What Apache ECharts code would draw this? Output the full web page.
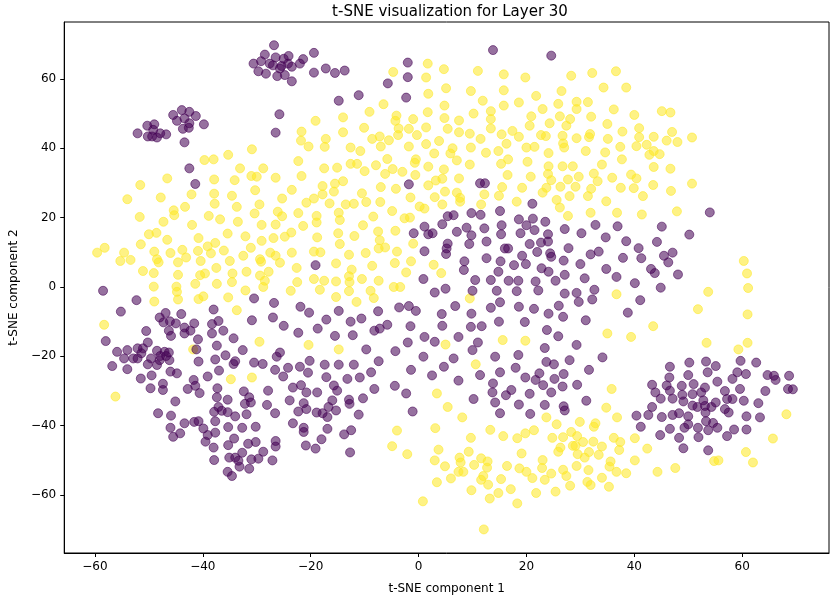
<!DOCTYPE html>
<html>
<head>
<meta charset="utf-8">
<title>t-SNE Layer 30</title>
<script src="https://cdn.jsdelivr.net/npm/echarts/dist/echarts.min.js"></script>
<style>
    html, body { margin: 0; padding: 0; background: #fff; }
    #tsneChart { width: 830px; height: 600px; }
</style>
</head>
<body>
<div id="tsneChart"></div>
<script>
// 标签 0（紫色）的点
var class0Points = [
    [-26.8,69.7],[-28.5,67.0],[-26.5,66.2],[-25.0,65.8],[-24.1,66.6],[-21.4,65.7],[-19.4,67.5],[-30.6,64.4],[-29.2,65.1],[-27.6,64.4],[-27.0,63.9],[-25.4,63.7],[-23.5,63.5],[-22.0,64.4],[-29.7,62.2],[-28.3,61.5],[-26.2,60.8],[-24.8,61.1],[-23.5,59.3],[-19.4,61.8],[-24.2,64.4],[-25.7,63.0],
    [-43.9,51.0],[-42.5,50.5],[-41.3,49.3],[-45.5,49.6],[-44.8,47.9],[-43.4,48.6],[-42.5,47.2],[-39.8,46.9],[-43.7,45.6],[-42.6,45.9],[-50.3,46.5],[-49.0,46.9],[-52.1,44.3],[-50.2,43.4],[-49.2,45.3],[-47.9,44.3],[-46.8,44.0],[-49.4,43.4],[-48.5,43.1],[-43.4,41.7],
    [-25.8,49.8],[-26.5,44.5],
    [-17.2,63.0],[-15.5,61.7],[-13.7,62.4],[-14.8,53.7],[-11.1,55.3],[-5.7,58.7],[-2.0,64.7],[-2.0,60.5],[-2.3,54.6],[13.8,68.3],[24.6,66.7],
    [-42.5,34.2],[-41.4,29.7],[-19.1,6.3],
    [-1.8,29.6],[11.4,29.9],[12.3,29.9],[21.1,24.0],[15.1,21.9],[5.4,20.4],[6.5,20.7],[9.8,21.3],[11.5,20.8],[18.6,19.5],[21.2,19.7],[23.5,18.8],[1.1,17.4],[4.4,18.1],[8.9,17.1],[12.2,16.9],[15.4,17.8],[20.0,17.8],[-0.9,15.5],[1.8,15.2],[2.6,15.5],[7.1,15.9],[9.8,14.9],[15.3,15.2],[18.9,15.5],[21.5,16.4],[24.0,15.2],[27.1,16.7],[5.4,12.5],[5.2,11.1],[9.4,12.4],[12.6,13.1],[22.7,12.8],[24.0,13.1],[20.6,12.4],[16.0,11.1],[16.6,11.1],[27.8,11.2],[1.1,10.3],[5.1,9.5],[22.0,10.1],[24.4,9.7],[19.2,9.0],[24.6,8.7],[12.6,8.3],[8.5,7.4],[15.2,7.4],[17.7,6.3],[19.9,6.6],[22.8,5.4],[26.9,7.6],[8.4,4.9],[14.8,4.4],[24.1,4.4],[27.1,3.5],[0.9,2.3],[10.5,2.0],[13.4,2.0],[16.7,1.8],[18.5,1.8],[21.7,1.6],[25.4,1.8],
    [54.0,21.5],[32.8,17.9],[36.9,17.5],[45.1,17.4],[30.2,15.5],[34.7,14.3],[38.5,13.2],[44.2,13.0],[50.2,15.1],[31.9,9.4],[33.4,10.2],[40.8,11.2],[37.9,8.4],[41.3,8.3],[45.5,9.0],[47.1,9.9],[46.3,7.1],[30.0,6.6],[34.8,5.2],[43.1,5.2],[43.8,4.0],[48.1,3.6],[30.8,2.5],[36.7,2.9],[40.1,1.1],
    [-58.5,-1.1],[-52.3,-3.8],[-55.2,-7.1],[-46.9,-7.5],[-48.0,-8.8],[-47.3,-10.2],[-46.1,-9.9],[-45.0,-10.5],[-44.0,-7.8],[-41.6,-10.5],[-43.4,-11.7],[-43.4,-13.4],[-42.3,-12.6],[-46.3,-12.6],[-45.9,-14.1],[-38.0,-6.5],[-37.1,-9.8],[-38.3,-10.7],[-38.3,-13.4],[-36.2,-12.6],[-34.3,-14.8],[-30.5,-3.3],[-30.9,-9.6],[-26.8,-4.6],[-27.0,-8.8],[-25.0,-11.2],[-21.9,-5.7],[-20.3,-7.4],[-22.3,-13.2],[-50.5,-12.7],[-58.0,-15.6],[-50.2,-16.0],[-40.9,-15.1],[-41.2,-18.0],[-37.4,-16.9],[-32.6,-18.2],[-55.9,-18.7],[-54.0,-18.2],[-52.1,-17.7],[-51.1,-17.7],[-54.6,-20.6],[-52.9,-20.6],[-52.1,-20.6],[-51.4,-19.1],[-49.6,-20.6],[-48.5,-18.4],[-47.9,-19.9],[-47.1,-18.7],[-46.3,-18.9],[-46.8,-19.9],[-46.2,-21.1],[-50.2,-22.3],[-48.5,-22.5],[-48.0,-21.1],[-56.8,-22.8],[-54.0,-23.7],[-40.8,-21.5],[-37.7,-20.9],[-35.8,-19.7],[-34.0,-21.4],[-34.3,-22.2],[-30.5,-21.8],[-28.9,-22.2],[-26.3,-20.1],[-25.7,-18.9],[-20.2,-21.3],[-22.0,-23.0],[-24.2,-23.3],[-26.6,-23.9],[-37.0,-24.1],[-46.0,-24.4],[-44.8,-24.9],[-51.5,-26.4],[-49.5,-25.5],[-41.7,-26.8],[-39.1,-25.8],[-25.1,-25.8],[-20.5,-24.7],[-49.7,-29.2],[-47.4,-27.9],[-47.4,-29.7],[-42.8,-29.4],[-41.4,-28.5],[-40.6,-30.6],[-37.3,-29.2],[-37.4,-31.8],[-35.4,-32.5],[-32.4,-30.1],[-31.4,-31.8],[-32.2,-33.7],[-31.1,-33.3],[-27.9,-29.9],[-23.3,-29.0],[-21.8,-28.3],[-20.8,-30.4],[-18.8,-30.4],[-23.9,-32.7],[-21.3,-33.5],[-28.1,-34.0],[-45.1,-33.0],[-37.1,-34.6],[-36.5,-35.7],[-35.4,-36.1],[-37.9,-36.0],[-48.3,-36.4],[-45.9,-37.1],[-34.0,-37.3],[-31.9,-36.7],[-26.6,-36.4],[-22.3,-35.9],[-20.8,-35.2],[-18.9,-36.2],[-18.7,-12.0],
    [3.0,-1.6],[5.0,-0.5],[10.0,-1.1],[14.5,-1.1],[18.2,-1.2],[22.2,-1.0],[27.1,-1.9],[-14.8,-6.9],[-17.1,-9.4],[-12.6,-10.0],[-10.6,-9.1],[-7.5,-7.0],[-3.6,-5.9],[-1.8,-5.5],[-0.5,-6.9],[6.8,-5.5],[4.3,-7.8],[4.4,-11.2],[9.8,-7.7],[13.4,-6.0],[15.1,-4.4],[18.6,-5.7],[21.4,-6.3],[24.1,-7.7],[26.0,-5.4],[26.8,-8.6],[14.9,-10.0],[19.7,-10.1],[23.8,-12.4],[25.9,-14.2],[9.7,-11.5],[11.7,-11.3],[-1.5,-11.3],[-5.8,-10.9],[-7.2,-12.0],[-8.2,-12.6],[-15.5,-14.1],[-12.2,-13.9],[1.1,-14.4],[3.0,-15.8],[7.4,-14.4],[11.0,-16.0],[10.0,-18.2],[-2.0,-16.0],[-4.3,-18.5],[-9.7,-18.0],[23.4,-17.6],[18.5,-19.6],[14.2,-20.1],[0.9,-20.1],[6.5,-20.6],[-7.4,-21.4],[-17.4,-22.4],[-14.8,-22.4],[-12.0,-22.4],[4.7,-23.0],[-1.4,-23.9],[-8.8,-24.6],[23.7,-21.6],[25.1,-22.3],[28.0,-21.1],[15.1,-24.6],[18.0,-23.3],[-17.1,-26.0],[-13.2,-26.5],[-10.9,-26.1],[2.5,-25.5],[7.4,-27.0],[11.4,-25.4],[13.8,-27.8],[19.8,-26.1],[21.7,-26.8],[22.4,-24.9],[25.2,-26.5],[26.9,-25.1],[23.1,-28.3],[26.7,-28.7],[-15.7,-28.4],[-15.1,-29.9],[-8.2,-29.4],[-4.4,-28.5],[-2.3,-30.7],[13.7,-30.4],[16.2,-31.2],[17.2,-29.7],[20.6,-30.8],[24.6,-30.4],[-16.0,-32.7],[-12.9,-32.5],[-12.8,-33.7],[-10.3,-32.1],[-16.7,-34.6],[10.2,-32.3],[14.2,-33.3],[18.6,-33.9],[23.4,-34.0],[26.9,-34.4],[-17.8,-36.4],[-15.3,-35.6],[-16.9,-37.5],[-11.1,-36.8],[-1.1,-35.9],[15.1,-36.4],[20.7,-36.6],[27.1,-35.6],
    [29.3,-1.7],[32.6,-0.8],[44.9,-0.2],[29.7,-4.3],[32.2,-3.6],[41.1,-3.8],[38.8,-7.4],[31.0,-9.6],[29.3,-16.7],[34.1,-20.3],[31.6,-23.9],[29.4,-28.2],[31.1,-32.8],
    [46.6,-23.0],[50.2,-21.8],[53.3,-21.5],[55.1,-22.8],[59.7,-21.3],[62.6,-21.8],[50.0,-25.4],[53.6,-24.6],[46.5,-26.1],[59.1,-24.6],[60.7,-25.1],[58.2,-26.5],[64.7,-25.4],[65.9,-25.6],[66.2,-26.8],[68.7,-25.6],[43.3,-28.2],[46.0,-28.4],[48.8,-28.5],[51.0,-28.0],[53.1,-29.0],[55.4,-27.3],[59.6,-29.4],[64.3,-30.0],[68.5,-29.4],[69.4,-29.5],[43.9,-30.4],[46.6,-29.9],[44.9,-32.2],[47.1,-32.2],[48.9,-31.1],[49.1,-33.0],[50.8,-30.9],[52.4,-30.4],[52.8,-32.7],[55.1,-33.3],[56.8,-30.0],[57.2,-32.3],[58.2,-32.3],[60.3,-32.8],[63.0,-33.5],[43.3,-34.6],[50.8,-34.2],[51.7,-34.6],[53.1,-34.3],[54.3,-34.6],[56.8,-35.2],[57.5,-36.2],[40.4,-37.1],[42.6,-36.9],[45.1,-37.5],[47.1,-36.9],[48.3,-36.4],[50.0,-37.3],[53.2,-36.2],[60.8,-37.3],[63.3,-37.6],
    [-43.4,-39.3],[-41.6,-38.9],[-40.8,-38.7],[-37.7,-38.7],[-46.0,-40.6],[-44.2,-42.2],[-45.5,-43.2],[-39.9,-40.8],[-39.1,-42.7],[-37.7,-42.0],[-39.5,-44.6],[-38.0,-46.3],[-35.3,-40.4],[-32.7,-40.6],[-30.2,-40.3],[-34.2,-43.7],[-35.3,-45.6],[-31.6,-45.2],[-30.2,-44.7],[-32.7,-47.8],[-28.8,-47.5],[-26.5,-44.4],[-26.5,-46.0],[-35.1,-49.2],[-34.0,-49.2],[-33.4,-50.1],[-37.9,-49.9],[-31.0,-49.7],[-29.7,-49.5],[-27.1,-50.0],[-33.2,-51.8],[-31.4,-52.4],[-35.4,-53.3],[-34.6,-54.5],[-23.3,-39.3],[-21.3,-40.6],[-21.3,-41.8],[-20.9,-45.7],[-19.1,-46.6],
    [-16.9,-40.9],[-18.0,-43.9],[-13.8,-42.5],[-12.5,-41.3],[-12.7,-47.7],
    [41.2,-40.3],[46.6,-40.9],[44.8,-42.7],[49.3,-40.6],[50.0,-39.6],[48.3,-43.5],[49.1,-46.5],[51.8,-40.6],[51.9,-43.3],[53.7,-41.3],[53.3,-38.7],[54.6,-39.2],[55.4,-40.6],[53.7,-47.1],[57.2,-43.0],[58.5,-41.1],[60.8,-41.1]
];

// 标签 1（黄色）的点
var class1Points = [
    [-19.1,47.9],[-21.7,44.8],[-21.8,42.2],[-20.4,40.5],[-30.9,39.7],[-35.3,38.1],
    [1.7,64.4],[4.7,62.8],[11.0,62.3],[15.8,61.3],[19.8,60.4],[28.3,60.9],[-4.7,62.0],[1.4,60.4],[5.1,57.3],[1.8,55.7],[9.7,56.5],[15.8,56.7],[21.8,55.1],[26.5,56.5],[11.9,53.7],[15.8,52.3],[18.6,53.2],[25.9,52.8],[-6.5,52.7],[4.8,52.3],[-9.1,50.5],[-14.0,48.9],[-4.1,49.4],[-4.3,47.9],[-1.0,48.4],[1.7,50.4],[4.8,48.7],[7.5,48.0],[10.2,50.0],[13.4,50.7],[13.4,48.4],[20.9,49.2],[23.0,51.3],[26.2,49.2],[28.1,48.4],[-17.2,42.7],[-17.4,40.4],[-14.0,44.6],[-10.1,45.9],[-8.6,42.7],[-7.0,40.5],[-7.2,43.4],[-5.5,42.3],[-3.7,45.7],[-3.8,43.8],[-1.8,45.6],[-0.3,43.8],[1.4,46.0],[-1.8,40.5],[1.4,41.2],[3.8,42.1],[5.4,45.6],[6.3,40.0],[7.5,44.6],[9.5,44.2],[9.7,40.2],[11.5,42.7],[13.4,45.7],[15.4,44.0],[16.3,41.3],[17.4,45.0],[18.6,43.3],[20.6,46.5],[22.7,43.8],[23.6,43.5],[24.3,47.2],[27.4,46.5],[26.7,43.6],[26.8,41.4],[27.0,40.2],[20.0,40.2],[21.5,40.4],[14.8,39.2],[12.5,38.7],[2.9,38.5],[5.9,38.5],[-10.8,39.2],[-12.6,40.2],[24.1,38.6],
    [32.2,61.7],[36.6,62.2],[34.3,57.5],[38.5,57.5],[29.3,53.4],[31.4,53.3],[29.3,51.3],[36.2,51.2],[32.0,49.1],[40.0,49.6],[45.1,50.7],[46.7,50.3],[35.0,47.0],[40.9,45.8],[37.8,44.8],[47.0,44.7],[29.3,42.9],[31.6,43.2],[31.8,44.1],[35.1,42.7],[40.9,43.2],[43.6,43.3],[46.0,42.2],[48.0,41.8],[50.7,43.1],[37.4,40.4],[40.4,40.6],[42.3,41.0],[31.0,39.2],[34.6,38.8],[43.6,39.2],[44.7,38.3],[42.8,38.1],
    [-39.7,36.6],[-38.0,36.8],[-22.3,36.3],[-33.1,34.2],[-28.8,34.2],[-46.6,31.3],[-51.6,29.4],[-37.9,31.0],[-34.1,30.8],[-31.0,32.0],[-30.0,31.8],[-26.5,31.5],[-21.7,32.0],[-54.0,25.3],[-47.8,25.8],[-42.1,26.7],[-37.9,26.9],[-34.6,26.3],[-30.3,27.9],[-23.5,28.0],[-25.3,25.5],[-19.4,25.5],[-20.8,24.3],[-37.8,24.0],[-45.4,22.1],[-45.3,20.7],[-43.3,23.1],[-33.7,23.1],[-29.5,23.8],[-26.1,21.7],[-25.3,20.4],[-22.3,21.3],[-51.7,20.2],[-47.3,18.8],[-42.0,17.9],[-38.9,20.5],[-36.8,19.5],[-33.5,18.8],[-30.4,21.2],[-29.1,17.9],[-26.5,18.0],[-21.4,17.6],[-18.9,20.5],[-18.9,18.6],[-50.0,15.2],[-48.6,15.6],[-46.6,13.6],[-40.8,14.1],[-35.4,15.4],[-32.1,14.6],[-29.1,13.3],[-26.9,14.1],[-24.8,14.5],[-23.6,15.7],[-18.8,14.3],[-59.6,9.9],[-58.2,11.3],[-54.6,9.9],[-55.3,7.5],[-53.4,7.8],[-51.5,12.3],[-49.0,10.2],[-48.5,8.0],[-48.2,7.1],[-46.0,9.8],[-44.6,7.1],[-43.8,10.7],[-43.1,8.5],[-40.9,10.4],[-39.1,11.7],[-37.7,12.7],[-38.5,9.7],[-36.1,10.5],[-40.4,7.5],[-35.0,7.5],[-32.5,9.0],[-31.1,11.3],[-29.4,8.0],[-29.2,7.3],[-27.5,9.9],[-26.5,9.0],[-25.7,7.0],[-23.5,9.9],[-19.4,10.2],[-51.1,4.6],[-49.1,4.0],[-44.6,3.5],[-40.5,3.4],[-39.6,3.9],[-37.5,5.5],[-34.5,3.9],[-31.9,4.4],[-29.4,3.3],[-27.8,4.4],[-28.5,1.8],[-22.6,5.5],[-22.5,1.4],[-19.4,2.3],[-41.4,0.9],[-37.4,0.9],[-34.6,1.4],[-49.1,0.1],[-44.9,0.1],
    [-5.8,36.9],[-0.5,36.8],[7.1,36.5],[9.5,35.3],[15.3,35.5],[16.6,36.8],[20.2,36.1],[24.1,34.8],[26.7,34.8],[28.6,34.8],[-17.5,34.2],[-15.1,34.4],[-12.6,35.5],[-11.4,35.5],[-10.0,33.4],[-7.9,35.1],[-6.2,32.6],[-4.8,34.0],[-3.0,33.2],[-0.7,35.8],[1.8,34.7],[4.7,33.9],[-0.6,32.3],[3.2,30.7],[4.4,31.2],[1.8,29.3],[7.5,31.3],[16.5,32.3],[20.8,31.8],[24.0,32.6],[24.6,30.8],[15.5,28.8],[19.2,28.6],[23.7,28.6],[26.3,28.9],[27.7,31.0],[-17.8,29.1],[-15.5,29.8],[-14.0,30.5],[-17.8,26.7],[-15.7,27.5],[-10.5,27.0],[-7.0,28.8],[-4.2,28.3],[-1.5,25.8],[3.0,25.9],[4.9,27.5],[7.1,27.2],[7.7,25.7],[7.7,24.6],[12.2,26.7],[14.9,26.3],[11.6,23.8],[18.2,24.6],[23.0,27.2],[25.6,25.1],[26.2,22.9],[28.0,26.2],[27.7,20.5],[-16.5,24.1],[-13.5,23.8],[-12.0,24.0],[-9.7,24.5],[-7.1,24.5],[-4.9,21.9],[0.2,23.2],[1.1,22.6],[4.4,23.8],[-14.8,21.4],[-14.6,19.3],[-8.4,20.3],[-2.6,19.8],[-1.6,20.0],[-10.3,17.8],[-14.9,15.5],[-11.9,14.7],[-7.5,16.0],[-4.3,16.2],[-7.2,13.5],[-14.6,12.4],[-7.4,11.1],[-6.2,11.4],[-4.0,10.2],[-1.0,12.5],[-18.2,10.0],[-12.9,9.3],[-9.8,9.8],[-15.3,6.8],[-8.6,6.1],[-4.4,6.9],[-1.4,7.4],[2.8,6.4],[-12.4,5.0],[-12.9,3.1],[-17.5,1.8],[-15.3,1.6],[-12.8,1.4],[-10.5,2.3],[-7.4,1.8],[-2.3,4.2],[4.2,4.0],
    [37.7,36.8],[43.6,34.6],[46.7,34.1],[34.0,35.3],[32.5,32.7],[29.7,31.8],[33.2,30.5],[35.9,31.5],[39.4,32.4],[40.4,31.3],[29.1,28.9],[32.0,28.3],[37.5,28.6],[39.9,28.5],[43.5,29.4],[50.7,29.8],[46.8,27.7],[31.4,26.2],[41.6,26.2],[34.8,24.7],[31.9,21.4],[36.8,21.4],[41.4,20.9],[47.9,21.8],[60.3,7.5],[60.9,3.9],
    [-32.1,-1.0],[-23.7,-1.1],[-44.8,-1.4],[-28.8,0.0],[-49.0,-4.2],[-44.6,-3.6],[-40.8,-3.5],[-39.9,-2.7],[-35.3,-3.0],[-33.7,-6.7],[-58.3,-10.9],[-41.8,-18.0],[-29.5,-15.8],[-20.4,-16.7],[-34.8,-26.6],[-30.9,-26.1],[-56.2,-31.6],
    [-15.3,-2.9],[-12.9,-1.2],[-8.9,-1.1],[-8.3,-3.2],[-11.5,-4.3],[-18.3,-0.8],[-4.6,0.0],[-3.4,0.0],[9.5,-3.3],[-14.8,-18.0],[5.0,-16.6],[15.6,-15.3],[19.8,-15.5],[10.6,-22.3],[3.4,-30.7],[5.4,-34.6],[8.1,-37.6],[23.7,-37.6],
    [36.7,-2.1],[53.7,-1.4],[61.1,-0.3],[51.8,-6.4],[61.0,-7.9],[35.0,-13.4],[43.5,-11.3],[39.4,-14.4],[53.4,-16.1],[59.3,-18.0],[61.0,-16.1],[35.8,-29.4],[34.8,-34.8],[36.8,-37.6],[68.2,-36.7],
    [-4.0,-41.4],[3.1,-40.7],[-4.9,-45.9],[-2.1,-48.2],[3.7,-46.9],[3.0,-50.0],[4.9,-51.7],[7.6,-49.2],[7.8,-50.6],[9.3,-47.5],[9.7,-43.5],[13.3,-41.2],[15.7,-43.0],[18.3,-43.6],[19.8,-42.2],[21.4,-41.3],[25.6,-39.6],[28.3,-41.8],[24.8,-43.5],[26.8,-43.3],[26.3,-46.3],[25.9,-47.5],[28.6,-45.8],[19.1,-48.0],[10.3,-51.3],[11.6,-49.4],[12.8,-50.3],[12.7,-52.1],[7.4,-53.3],[8.3,-53.3],[6.0,-55.2],[3.4,-56.3],[12.0,-54.5],[11.6,-55.6],[12.9,-57.0],[15.3,-55.4],[16.4,-51.6],[18.7,-52.3],[20.0,-53.3],[21.1,-55.1],[23.0,-49.9],[22.9,-52.2],[24.6,-53.8],[23.4,-55.6],[26.8,-52.7],[27.4,-54.5],[28.1,-57.3],[25.4,-59.0],[21.8,-59.4],[17.1,-58.3],[14.8,-59.4],[13.2,-61.0],[9.8,-58.6],[18.3,-62.4],[0.8,-61.8],[12.1,-69.9],
    [29.9,-38.9],[32.8,-39.3],[32.5,-40.3],[29.4,-43.0],[29.1,-45.8],[30.5,-44.7],[32.4,-44.6],[34.0,-46.0],[36.2,-43.5],[37.4,-44.7],[37.2,-47.0],[40.1,-43.6],[42.4,-46.6],[31.6,-47.6],[29.5,-48.2],[30.8,-49.2],[33.4,-48.4],[35.6,-50.3],[35.4,-51.8],[29.3,-51.6],[40.1,-50.0],[36.7,-53.3],[38.5,-53.7],[31.5,-52.8],[34.0,-55.0],[31.3,-56.2],[31.9,-57.1],[35.3,-57.6],[44.3,-53.3],[47.6,-52.2],[54.8,-50.2],[55.6,-50.0],[60.7,-47.6],[62.0,-50.6],[65.7,-43.7]
];

var xRange = [-65.7, 76.1];
var yRange = [-76.7, 76.4];
var chartTitle = 't-SNE visualization for Layer 30';
var xName = 't-SNE component 1';
var yName = 't-SNE component 2';

var fontName = 'DejaVu Sans';

// matplotlib 风格的负号
function tickText(value) {
    return value < 0 ? '\u2212' + Math.abs(value) : String(value);
}

function axisStyle(range, name, gap, labelGap) {
    return {
        type: 'value',
        min: range[0],
        max: range[1],
        splitNumber: 7,
        name: name,
        nameLocation: 'middle',
        nameGap: gap,
        nameTextStyle: { color: '#000', fontFamily: fontName, fontSize: 12 },
        axisLine: { show: true, onZero: false, lineStyle: { color: '#000', width: 1 } },
        axisTick: { show: true, inside: false, length: 4, lineStyle: { color: '#000' } },
        axisLabel: {
            color: '#000', fontFamily: fontName, fontSize: 12, margin: labelGap,
            showMinLabel: false, showMaxLabel: false, formatter: tickText
        },
        splitLine: { show: false }
    };
}

var tsneChart = echarts.init(document.getElementById('tsneChart'), null, { renderer: 'canvas' });

var tsneOption = {
    animation: false,
    backgroundColor: '#fff',
    title: {
        text: chartTitle,
        left: 445,
        top: 0,
        textAlign: 'center',
        textStyle: { color: '#000', fontFamily: fontName, fontSize: 15, fontWeight: 'normal' }
    },
    grid: {
        left: 61,
        right: 1,
        top: 22,
        bottom: 45,
        show: true,
        borderColor: '#000',
        borderWidth: 1,
        backgroundColor: 'transparent'
    },
    xAxis: axisStyle(xRange, xName, 30, 8),
    yAxis: axisStyle(yRange, yName, 44, 8),
    series: [
        {
            name: '1',
            type: 'scatter',
            data: class1Points,
            symbolSize: 9,
            itemStyle: {
                color: 'rgba(253,231,37,0.7)',
                borderColor: 'rgba(253,231,37,0.7)',
                borderWidth: 1
            }
        },
        {
            name: '0',
            type: 'scatter',
            data: class0Points,
            symbolSize: 9,
            itemStyle: {
                color: 'rgba(68,1,84,0.7)',
                borderColor: 'rgba(68,1,84,0.7)',
                borderWidth: 1
            }
        }
    ]
};
tsneChart.setOption(tsneOption);
</script>
</body>
</html>
